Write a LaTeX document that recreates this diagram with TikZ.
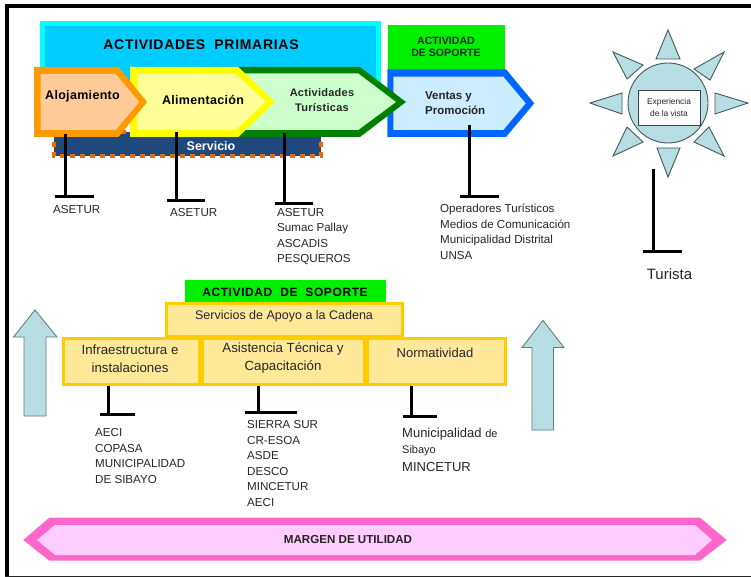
\documentclass[tikz,border=0pt]{standalone}
\usepackage{fontspec}
\setmainfont{Liberation Sans}
\newfontfamily\spaced[LetterSpace=5]{Liberation Sans}
\newfontfamily\spacedless[LetterSpace=2.5]{Liberation Sans}
\definecolor{cyanout}{HTML}{00FFFF}
\definecolor{skyfill}{HTML}{00CCFF}
\definecolor{limeg}{HTML}{00F000}
\definecolor{orangeS}{HTML}{FF9900}
\definecolor{orangeF}{HTML}{FFCC99}
\definecolor{yellowS}{HTML}{FFFF00}
\definecolor{yellowF}{HTML}{FFFF99}
\definecolor{greenS}{HTML}{008000}
\definecolor{greenF}{HTML}{CCFFCC}
\definecolor{blueS}{HTML}{0066FF}
\definecolor{blueF}{HTML}{CCECFF}
\definecolor{navyF}{HTML}{1F497D}
\definecolor{dashO}{HTML}{E36C0A}
\definecolor{goldS}{HTML}{FFCC00}
\definecolor{goldF}{HTML}{FFE998}
\definecolor{tealF}{HTML}{B7DEE2}
\definecolor{tealS}{HTML}{5F7F82}
\definecolor{pinkS}{HTML}{FF66CC}
\definecolor{pinkF}{HTML}{FFCCFF}
\definecolor{labelc}{HTML}{26262E}
\tikzset{
  tstem/.style={black,line width=3pt},
  goldbox/.style={draw=goldS,fill=goldF,line width=3pt},
  sunpart/.style={draw=tealS!70!black,fill=tealF,line width=0.9pt,line join=miter},
  uparrow/.style={draw=tealS,fill=tealF,line width=0.9pt},
  orglabel/.style={anchor=west,inner sep=0pt,font=\fontsize{11.6}{11.6}\selectfont,text=labelc},
  boxlabel/.style={inner sep=0pt,font=\fontsize{13}{13}\selectfont,text=labelc},
  title/.style={inner sep=0pt,font=\bfseries\fontsize{11}{11}\selectfont,text=black}
}
\begin{document}
\begin{tikzpicture}[x=1pt,y=-1pt]
\useasboundingbox (0,0) rectangle (751,577);
\fill[white] (0,0) rectangle (751,577);
% frame
\fill[black] (5,4) rectangle (751,8);
\fill[black] (5,4) rectangle (9,577);
\fill[black!85] (5,575.5) rectangle (751,577);
% primary activities band
\draw[draw=cyanout,fill=skyfill,line width=5pt] (42.5,23.5) rectangle (378.5,100);
\node[title,font=\bfseries\spaced\fontsize{14}{14}\selectfont] (prim) at (201,44.5) {ACTIVIDADES\ \ PRIMARIAS};
% support top
\fill[limeg] (388,25) rectangle (505,72);
\node[title,font=\bfseries\fontsize{10.6}{12.5}\selectfont,align=center,text=black!85] (sop1) at (446,47) {ACTIVIDAD\\DE SOPORTE};
% servicio
\draw[draw=dashO,fill=navyF,line width=4.5pt,dash pattern=on 5pt off 5pt] (54,132) rectangle (321,156);
\node[inner sep=0pt,text=white,font=\bfseries\fontsize{12.5}{12.5}\selectfont] (serv) at (211,146.5) {Servicio};
% chevrons: outer silhouette, then inner face
\fill[blueS] (387.3,69.3) -- (506,69.3) -- (534.3,103.3) -- (506,137) -- (387.3,137) -- cycle;
\fill[blueF] (393.3,76.7) -- (503.3,76.7) -- (525.7,103.3) -- (503.3,130) -- (393.3,130) -- cycle;
\fill[greenS] (200,67) -- (360,67) -- (406,102) -- (360,137) -- (200,137) -- cycle;
\fill[greenF] (200,73.5) -- (358.3,73.5) -- (396,102) -- (358.3,130) -- (200,130) -- cycle;
\fill[yellowS] (130,67) -- (238.3,67) -- (275,102) -- (238.3,137) -- (130,137) -- cycle;
\fill[yellowF] (137.3,74) -- (235.7,74) -- (265.7,102) -- (235.7,130) -- (137.3,130) -- cycle;
\fill[orangeS] (34,67) -- (118.5,67) -- (147,102) -- (118.5,137) -- (34,137) -- cycle;
\fill[orangeF] (40.7,74) -- (115.7,74) -- (139.3,102) -- (115.7,130) -- (40.7,130) -- cycle;
\node[title,font=\bfseries\spacedless\fontsize{12.5}{12.5}\selectfont] (aloj) at (82.5,96) {Alojamiento};
\node[title,font=\bfseries\spacedless\fontsize{12.5}{12.5}\selectfont] (alim) at (203,100) {Alimentación};
\node[title,align=center,font=\bfseries\spacedless\fontsize{11}{15.5}\selectfont,text=black!85] (acti) at (322,100) {Actividades\\Turísticas};
\node[title,align=left,font=\bfseries\fontsize{11.5}{15.5}\selectfont,anchor=west,text=black!85] (vent) at (425,103) {Ventas y\\Promoción};
% connectors
\foreach \n/\x/\ya/\yb/\xl/\xr in {a/65/134/197/55/93.5,b/176.5/132/201/167/205,c/284/133/204/275/313,d/469.7/125/197/460/498.5,e/653.5/169/251/643/682,f/108/384/414/99.5/134.5,g/258/386/412.5/245/296.5,h/411/386/416/402.5/437}{
  \coordinate (\n top) at (\x,\ya);
  \coordinate (\n foot) at (\x,\yb);
  \coordinate (\n l) at (\xl,\yb);
  \coordinate (\n r) at (\xr,\yb);
  \draw[tstem] (\n top) -- (\n foot);
  \draw[tstem] (\n l) -- (\n r);
}
% labels upper
\node[orglabel] (o1) at (53,209.5) {ASETUR};
\node[orglabel] (o2) at (170,213) {ASETUR};
\node[orglabel] (o3a) at (277,212.5) {ASETUR};
\node[orglabel] (o3b) at (277,229) {Sumac Pallay};
\node[orglabel] (o3c) at (277,244) {ASCADIS};
\node[orglabel] (o3d) at (277,259.5) {PESQUEROS};
\node[orglabel] (o4a) at (440,209.5) {Operadores Turísticos};
\node[orglabel] (o4b) at (440,224.5) {Medios de Comunicación};
\node[orglabel] (o4c) at (440,240.5) {Municipalidad Distrital};
\node[orglabel] (o4d) at (440,256) {UNSA};
% sun
\draw[sunpart] (668,30) -- (680,59) -- (656,59) -- cycle;
\draw[sunpart] (668,177) -- (680,148) -- (657,148) -- cycle;
\draw[sunpart] (590,103) -- (622,93) -- (622,114) -- cycle;
\draw[sunpart] (748,103) -- (715,93) -- (715,114) -- cycle;
\draw[sunpart] (613,52) -- (643,65) -- (627,79) -- cycle;
\draw[sunpart] (724,52) -- (694,69) -- (710,80) -- cycle;
\draw[sunpart] (613,156) -- (627,127) -- (643,142) -- cycle;
\draw[sunpart] (724,156) -- (709,127) -- (694,142) -- cycle;
\draw[sunpart] (668,103) circle (40);
\node[draw=black!75,fill=white,line width=0.9pt,minimum width=62pt,minimum height=35pt,inner sep=0pt,align=center,font=\fontsize{8.4}{12.5}\selectfont,text=labelc] (exp) at (669,107.5) {Experiencia\\de la vista};
\node[inner sep=0pt,font=\fontsize{15}{15}\selectfont,text=labelc] (tur) at (669.5,274.5) {Turista};
% lower support
\fill[limeg] (185,280) rectangle (386,302);
\node[title,font=\bfseries\spaced\fontsize{12}{12}\selectfont] (sop2) at (285,292) {ACTIVIDAD\ \ DE\ \ SOPORTE};
\node[goldbox,minimum width=236pt,minimum height=33pt,inner sep=0pt] (apoyo) at (284.5,320) {};
\node[boxlabel,font=\fontsize{12.5}{12.5}\selectfont] (apoyot) at (284,316.5) {Servicios de Apoyo a la Cadena};
\node[goldbox,minimum width=136pt,minimum height=46pt,inner sep=0pt] (infra) at (131.5,361.5) {};
\node[goldbox,minimum width=162pt,minimum height=46pt,inner sep=0pt] (asis) at (283.5,361.5) {};
\node[goldbox,minimum width=138pt,minimum height=46pt,inner sep=0pt] (norm) at (436.5,361.5) {};
\node[boxlabel,align=center,font=\fontsize{13.3}{18}\selectfont] (infrat) at (130,358.5) {Infraestructura e\\instalaciones};
\node[boxlabel,align=center,font=\fontsize{13.3}{18}\selectfont] (asist) at (283,358) {Asistencia Técnica y\\Capacitación};
\node[boxlabel] (normt) at (435,353) {Normatividad};
% lower labels
\node[orglabel] (l1) at (95,433) {AECI};
\node[orglabel] (l2) at (95,449) {COPASA};
\node[orglabel] (l3) at (95,464) {MUNICIPALIDAD};
\node[orglabel] (l4) at (95,480) {DE SIBAYO};
\node[orglabel] (l5) at (247,425) {SIERRA SUR};
\node[orglabel] (l6) at (247,441) {CR-ESOA};
\node[orglabel] (l7) at (247,456) {ASDE};
\node[orglabel] (l8) at (247,472) {DESCO};
\node[orglabel] (l9) at (247,487) {MINCETUR};
\node[orglabel] (l10) at (247,502.5) {AECI};
\node[orglabel,font=\fontsize{13}{13}\selectfont] (l11) at (402,434) {Municipalidad {\fontsize{11}{11}\selectfont de}};
\node[orglabel,font=\fontsize{11}{11}\selectfont] (l12) at (402,451) {Sibayo};
\node[orglabel,font=\fontsize{13}{13}\selectfont] (l13) at (402,467) {MINCETUR};
% up arrows
\draw[uparrow] (35,310) -- (57,337) -- (46,337) -- (46,416) -- (24,416) -- (24,337) -- (13.5,337) -- cycle;
\draw[uparrow] (543,320.5) -- (564,347.5) -- (553.5,347.5) -- (553.5,430) -- (532,430) -- (532,347.5) -- (522,347.5) -- cycle;
% margin arrow
\fill[pinkS] (23.3,540) -- (49.3,517.7) -- (700,517.7) -- (726.7,540) -- (700,560.7) -- (49.3,560.7) -- cycle;
\fill[pinkF] (37,540) -- (55,525) -- (695,525) -- (712,540) -- (695,555) -- (55,555) -- cycle;
\node[title,font=\bfseries\fontsize{11.6}{11.6}\selectfont,text=black!85] (marg) at (348,539.5) {MARGEN DE UTILIDAD};
\end{tikzpicture}
\end{document}
